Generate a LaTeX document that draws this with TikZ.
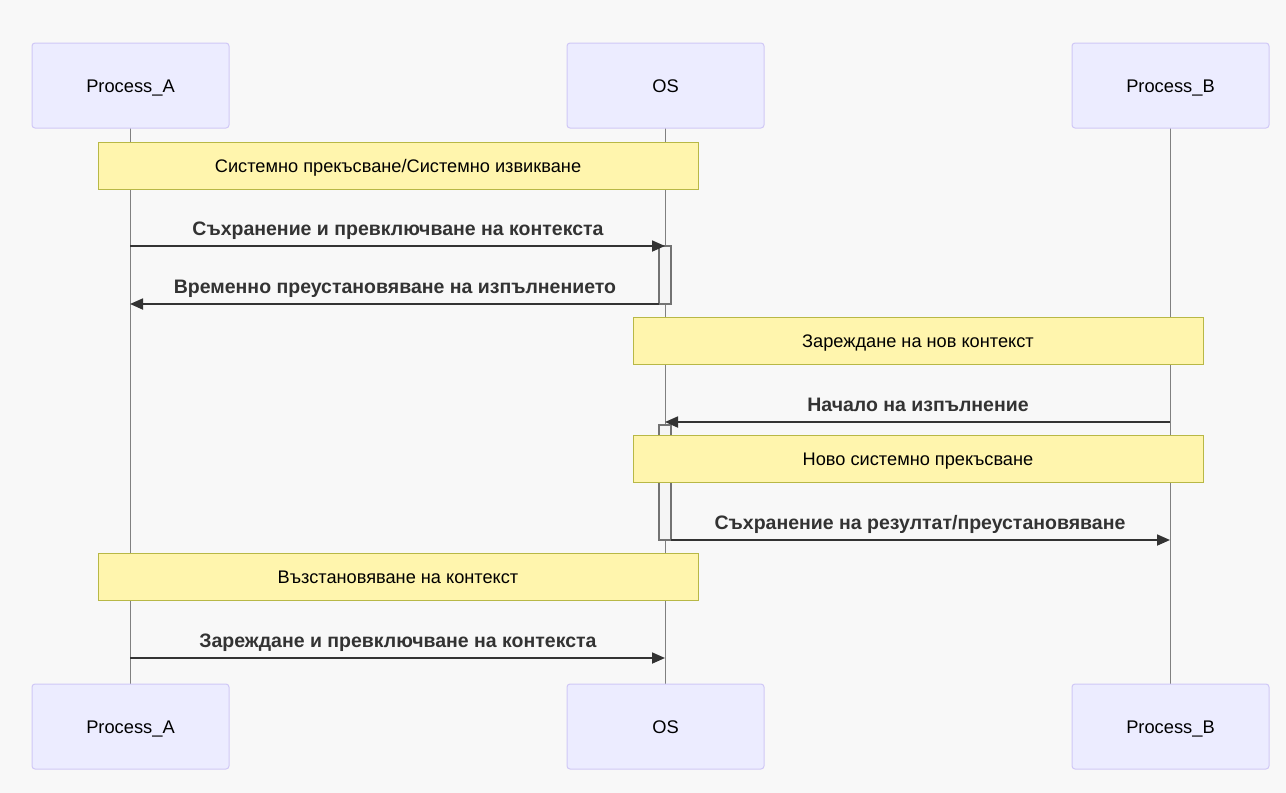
\documentclass[tikz,border=0pt]{standalone}
\usepackage{fontspec}
\setmainfont{Liberation Sans}
\usetikzlibrary{arrows.meta}

\definecolor{bgcol}{RGB}{248,248,248}
\definecolor{actorfill}{RGB}{236,236,255}
\definecolor{actorline}{RGB}{208,200,246}
\definecolor{notefill}{RGB}{255,245,173}
\definecolor{noteline}{RGB}{184,184,70}
\definecolor{msgcol}{RGB}{51,51,51}

\tikzset{
  actor/.style={draw=actorline, fill=actorfill, rounded corners=3pt, line width=1pt,
    minimum width=197pt, minimum height=85pt, text height=15pt, text depth=2pt,
    font=\fontsize{18.3}{20}\selectfont},
  notebox/.style={draw=noteline, fill=notefill, line width=1pt,
    minimum height=47pt, text height=15pt, text depth=2pt,
    font=\fontsize{18.2}{20}\selectfont},
  msgtext/.style={anchor=base, text=msgcol, font=\bfseries\fontsize{19.5}{22}\selectfont},
  msgline/.style={draw=msgcol, line width=1.8pt, -{Triangle[length=13pt,width=11pt]}},
  lifeline/.style={draw=gray, line width=0.9pt},
  actbar/.style={draw=gray!90!black, fill=gray!8, line width=1.2pt}
}

\begin{document}
\begin{tikzpicture}[x=1pt,y=-1pt]
  \fill [bgcol] (0,0) rectangle (1286,793);
  \useasboundingbox (0,0) rectangle (1286,793);

  % lifelines
  \coordinate (A top) at (130,128);
  \coordinate (A bot) at (130,684);
  \coordinate (OS top) at (665,128);
  \coordinate (OS bot) at (665,684);
  \coordinate (B top) at (1170,128);
  \coordinate (B bot) at (1170,684);
  \draw [lifeline] (A top) -- (A bot);
  \draw [lifeline] (OS top) -- (OS bot);
  \draw [lifeline] (B top) -- (B bot);

  % actors
  \node [actor] (A1) at (130.5,85.5) {Process\_A};
  \node [actor] (OS1) at (665.5,85.5) {OS};
  \node [actor] (B1) at (1170.5,85.5) {Process\_B};
  \node [actor] (A2) at (130.5,726.5) {Process\_A};
  \node [actor] (OS2) at (665.5,726.5) {OS};
  \node [actor] (B2) at (1170.5,726.5) {Process\_B};

  % activations
  \draw [actbar] (659,246) rectangle (671,304);
  \draw [actbar] (659,425) rectangle (671,540);

  % notes
  \node [notebox, minimum width=600pt] (N1) at (398,165.5) {Системно прекъсване/Системно извикване};
  \node [notebox, minimum width=570pt] (N2) at (918,340.5) {Зареждане на нов контекст};
  \node [notebox, minimum width=570pt] (N3) at (918,458.5) {Ново системно прекъсване};
  \node [notebox, minimum width=600pt] (N4) at (398,576.5) {Възстановяване на контекст};

  % messages
  \coordinate (m1s) at (130,246);
  \coordinate (m1e) at (665,246);
  \coordinate (m2s) at (659,304);
  \coordinate (m2e) at (130,304);
  \coordinate (m3s) at (1170,422);
  \coordinate (m3e) at (665,422);
  \coordinate (m4s) at (671,540);
  \coordinate (m4e) at (1170,540);
  \coordinate (m5s) at (130,658);
  \coordinate (m5e) at (665,658);

  \draw [msgline] (m1s) -- (m1e);
  \node [msgtext] (t1) at (398,235) {Съхранение и превключване на контекста};
  \draw [msgline] (m2s) -- (m2e);
  \node [msgtext] (t2) at (395,293) {Временно преустановяване на изпълнението};
  \draw [msgline] (m3s) -- (m3e);
  \node [msgtext] (t3) at (918,411) {Начало на изпълнение};
  \draw [msgline] (m4s) -- (m4e);
  \node [msgtext] (t4) at (920,529) {Съхранение на резултат/преустановяване};
  \draw [msgline] (m5s) -- (m5e);
  \node [msgtext] (t5) at (398,647) {Зареждане и превключване на контекста};
\end{tikzpicture}
\end{document}
